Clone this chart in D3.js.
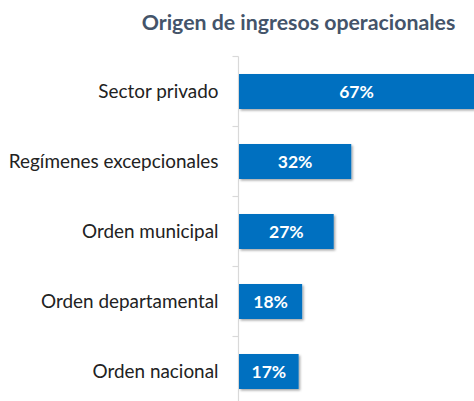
<!DOCTYPE html>
<html>
<head>
<meta charset="utf-8">
<script src="https://cdn.jsdelivr.net/npm/d3@7"></script>
<style>
  body { margin: 0; background: #fff; }
  svg { display: block; font-family: Lato, "Open Sans", sans-serif; }
</style>
</head>
<body>
<script>
const categories = ['Sector privado', 'Regímenes excepcionales', 'Orden municipal', 'Orden departamental', 'Orden nacional'];
const values = [67, 32, 27, 18, 17];
const title = 'Origen de ingresos operacionales';

const width = 474, height = 401;
const axisX = 238.5;

const svg = d3.select('body')
    .append('svg')
    .attr('width', width)
    .attr('height', height)

// soft shadow under the bars
const filter = svg.append('defs').append('filter')
    .attr('id', 'shadow')
    .attr('x', '-10%').attr('y', '-10%')
    .attr('width', '130%').attr('height', '140%')
filter.append('feDropShadow')
    .attr('dx', 1.5).attr('dy', 1.5)
    .attr('stdDeviation', 1.2)
    .attr('flood-color', '#000')
    .attr('flood-opacity', 0.35)

const xScale = d3.scaleLinear()
    .domain([0, 67])
    .range([axisX + 0.5, width])

const yScale = d3.scaleBand()
    .domain(categories)
    .range([56.5, 406.5])
    .paddingInner(0.5)
    .paddingOuter(0.25)

svg.append('text')
    .attr('x', 298.5)
    .attr('y', 30)
    .attr('text-anchor', 'middle')
    .attr('font-size', 21.3)
    .attr('font-weight', 'bold')
    .attr('fill', '#44546a')
    .text(title)

// category labels
const yAxis = d3.axisLeft(yScale).tickSize(0).tickPadding(20);
const gy = svg.append('g')
    .attr('transform', 'translate(' + axisX + ',0)')
    .call(yAxis)
gy.select('.domain').remove();
gy.selectAll('text')
    .attr('font-size', 18.9)
    .attr('font-family', 'Lato, sans-serif')
    .attr('fill', '#222')

// axis line with ticks between the categories
const step = yScale.step();
const bounds = categories.map(c => yScale(c) - step * 0.25).concat([yScale(categories[4]) + yScale.bandwidth() + step * 0.25]);
svg.append('line')
    .attr('x1', axisX).attr('x2', axisX)
    .attr('y1', bounds[0]).attr('y2', height)
    .attr('stroke', '#d9d9d9').attr('stroke-width', 1.2)
svg.selectAll('line.tick')
    .data(bounds)
    .enter()
    .append('line')
    .attr('class', 'tick')
    .attr('x1', axisX - 6).attr('x2', axisX)
    .attr('y1', d => d).attr('y2', d => d)
    .attr('stroke', '#d9d9d9').attr('stroke-width', 1.2)

const bars = svg.selectAll('g.bar')
    .data(categories)
    .enter()
    .append('g')
    .attr('class', 'bar')

bars.append('rect')
    .attr('x', xScale(0))
    .attr('y', d => yScale(d))
    .attr('width', (d, i) => xScale(values[i]) - xScale(0))
    .attr('height', yScale.bandwidth())
    .attr('fill', '#0070c0')
    .attr('filter', 'url(#shadow)')

bars.append('text')
    .attr('x', (d, i) => (xScale(0) + xScale(values[i])) / 2)
    .attr('y', d => yScale(d) + yScale.bandwidth() / 2)
    .attr('dy', '0.36em')
    .attr('text-anchor', 'middle')
    .attr('font-size', 17.5)
    .attr('font-weight', 'bold')
    .attr('fill', '#fff')
    .text((d, i) => values[i] + '%')
</script>
</body>
</html>
